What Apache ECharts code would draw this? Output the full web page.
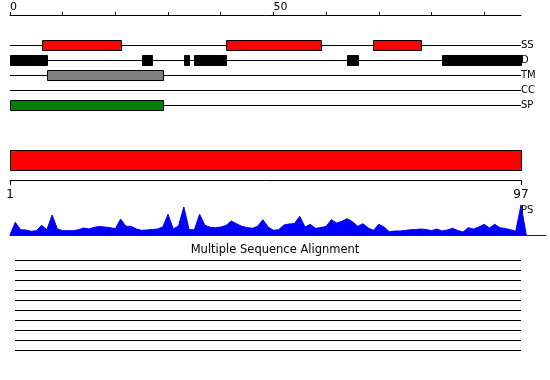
<!DOCTYPE html>
<html>
<head>
<meta charset="utf-8">
<script src="https://cdn.jsdelivr.net/npm/echarts@6/dist/echarts.min.js"></script>
<style>
html,body{margin:0;padding:0;background:#fff;}
#chart{width:550px;height:380px;}
</style>
</head>
<body>
<div id="chart"></div>
<script>
// ---- data ----
const seqLen = 97;
const topTicks = [0, 10, 20, 30, 40, 50, 60, 70, 80, 90];
const topTickLabels = [0, 50];
const rangeTickLabels = [1, 97];
const trackNames = ['SS', 'D', 'TM', 'CC', 'SP'];
const ssSegments = [[6, 21], [41, 59], [69, 78]];
const dSegments = [[0, 7], [25, 27], [33, 34], [35, 41], [64, 66], [82, 97]];
const tmSegments = [[7, 29]];
const ccSegments = [];
const spSegments = [[0, 29]];
const fullRange = [1, 97];
const psValues = [
  12.7, 5.3, 5, 3.7, 4.3, 9.7, 5.3, 20, 6, 4.3,
  4.3, 4.3, 5.3, 7, 6, 7.7, 8.5, 8, 7.3, 6.3,
  16, 8.7, 8.7, 6, 4.7, 5, 5.5, 6, 8, 20.7,
  6, 9.3, 28, 5.3, 5.3, 20.7, 9.7, 7.7, 7.3, 8,
  9.5, 14, 11.3, 8.7, 7.5, 6.7, 8.7, 15.3, 8, 4.7,
  5.3, 10, 11, 11.5, 18.7, 8, 10.7, 6.7, 7.5, 8.5,
  15.3, 12, 13.7, 16.3, 13.3, 8.7, 11.3, 7, 4.7, 10.7,
  8, 3.3, 4, 4, 4.5, 5.3, 5.5, 6, 5.5, 4.3,
  6, 4, 5, 6.7, 4.5, 3, 7.3, 6, 8, 10.7,
  7, 10.7, 7.3, 6.5, 5.3, 3.7, 30
];
const msaRows = ['1', '2', '3', '4', '5', '6', '7', '8', '9', '10'];

// ---- styles ----
const trackColors = { SS: '#ff0000', D: '#000000', TM: '#808080', CC: '#ffffff', SP: '#008000' };
const FONT = 'DejaVu Sans';

const segmentData = [];
[ssSegments, dSegments, tmSegments, ccSegments, spSegments].forEach((segs, ti) => {
  segs.forEach(s => segmentData.push([s[0], s[1], ti]));
});

const psData = [[0, 0]];
psValues.forEach((v, i) => psData.push([i + 1, v]));
psData.push([seqLen + 1, 0]);

const chart = echarts.init(document.getElementById('chart'), null, { renderer: 'canvas' });

function rx(v) { return Math.round(v); }

chart.setOption({
  animation: false,
  backgroundColor: '#ffffff',
  title: [
    { text: 'PS', left: 521, top: 205, padding: 0,
      textStyle: { fontFamily: FONT, fontSize: 10, fontWeight: 'normal', color: '#000' } },
    { text: 'Multiple Sequence Alignment', left: 'center', top: 244, padding: 0,
      textStyle: { fontFamily: FONT, fontSize: 11.5, fontWeight: 'normal', color: '#000' } }
  ],
  grid: [
    { left: 10, width: 511, top: 37.5, height: 75 },
    { left: 10, width: 511, top: 150, height: 30 },
    { left: 10, width: 536, top: 200, height: 35 },
    { left: 15, width: 506, top: 255, height: 100 }
  ],
  xAxis: [
    { gridIndex: 0, type: 'value', min: 0, max: seqLen, position: 'top', offset: 22.5,
      axisLine: { show: true, lineStyle: { color: '#000', width: 1 } },
      axisTick: { show: true, customValues: topTicks, length: 3, inside: false, lineStyle: { color: '#000' } },
      axisLabel: { show: true, customValues: topTickLabels, align: 'left', margin: 2,
        fontFamily: FONT, fontSize: 11, color: '#000' },
      splitLine: { show: false } },
    { gridIndex: 1, type: 'value', min: fullRange[0], max: fullRange[1], position: 'bottom',
      axisLine: { show: true, lineStyle: { color: '#000', width: 1 } },
      axisTick: { show: true, customValues: rangeTickLabels, length: 5, inside: false, lineStyle: { color: '#000' } },
      axisLabel: { show: true, customValues: rangeTickLabels, margin: 9,
        fontFamily: FONT, fontSize: 12, color: '#000' },
      splitLine: { show: false } },
    { gridIndex: 2, type: 'value', min: 0, max: seqLen * 536 / 511,
      axisLine: { show: true, lineStyle: { color: '#0000ff', width: 1 } },
      axisTick: { show: false }, axisLabel: { show: false }, splitLine: { show: false } },
    { gridIndex: 3, type: 'value', min: 0, max: seqLen, show: false }
  ],
  yAxis: [
    { gridIndex: 0, type: 'category', data: trackNames, inverse: true, position: 'right',
      axisLine: { show: false }, axisTick: { show: false },
      axisLabel: { show: true, margin: 0, fontFamily: FONT, fontSize: 10, color: '#000' },
      splitLine: { show: false } },
    { gridIndex: 1, type: 'value', min: 0, max: 1, show: false },
    { gridIndex: 2, type: 'value', min: 0, max: 35, show: false },
    { gridIndex: 3, type: 'category', data: msaRows, inverse: true, show: false }
  ],
  series: [
    { // track base lines
      type: 'custom', xAxisIndex: 0, yAxisIndex: 0, silent: true, z: 1,
      data: trackNames.map((n, i) => [0, seqLen, i]),
      renderItem: function (params, api) {
        const p0 = api.coord([api.value(0), api.value(2)]);
        const p1 = api.coord([api.value(1), api.value(2)]);
        const y = rx(p0[1]) + 0.5;
        return { type: 'line', shape: { x1: rx(p0[0]), y1: y, x2: rx(p1[0]), y2: y },
          style: { stroke: '#000', lineWidth: 1 } };
      }
    },
    { // track feature boxes
      type: 'custom', xAxisIndex: 0, yAxisIndex: 0, silent: true, z: 2,
      data: segmentData,
      renderItem: function (params, api) {
        const ti = api.value(2);
        const p0 = api.coord([api.value(0), ti]);
        const p1 = api.coord([api.value(1), ti]);
        const x0 = rx(p0[0]), x1 = rx(p1[0]);
        const y = rx(p0[1]);
        return { type: 'rect', shape: { x: x0 + 0.5, y: y - 5 + 0.5, width: x1 - x0, height: 10 },
          style: { fill: trackColors[trackNames[ti]], stroke: '#000', lineWidth: 1 } };
      }
    },
    { // full-length bar
      type: 'custom', xAxisIndex: 1, yAxisIndex: 1, silent: true,
      data: [fullRange],
      renderItem: function (params, api) {
        const p0 = api.coord([api.value(0), 1]);
        const p1 = api.coord([api.value(1), 1]);
        const x0 = rx(p0[0]), x1 = rx(p1[0]);
        return { type: 'rect', shape: { x: x0 + 0.5, y: rx(p0[1]) + 0.5, width: x1 - x0, height: 20 },
          style: { fill: '#ff0000', stroke: '#000', lineWidth: 1 } };
      }
    },
    { // PS profile
      type: 'line', xAxisIndex: 2, yAxisIndex: 2, silent: true,
      data: psData, symbol: 'none', smooth: false,
      lineStyle: { color: '#0000ff', width: 1 },
      areaStyle: { color: '#0000ff', opacity: 1 }
    },
    { // MSA rows
      type: 'custom', xAxisIndex: 3, yAxisIndex: 3, silent: true,
      data: msaRows.map((r, i) => [0, seqLen, i]),
      renderItem: function (params, api) {
        const p0 = api.coord([api.value(0), api.value(2)]);
        const p1 = api.coord([api.value(1), api.value(2)]);
        const y = rx(p0[1]) + 0.5;
        return { type: 'line', shape: { x1: rx(p0[0]), y1: y, x2: rx(p1[0]), y2: y },
          style: { stroke: '#000', lineWidth: 1 } };
      }
    }
  ]
});
</script>
</body>
</html>
